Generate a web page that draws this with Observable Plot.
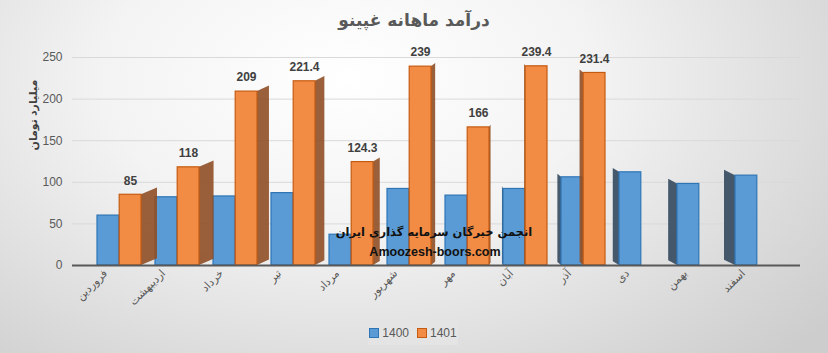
<!DOCTYPE html>
<html><head><meta charset="utf-8">
<script src="https://cdn.jsdelivr.net/npm/d3@7"></script>
<script src="https://cdn.jsdelivr.net/npm/@observablehq/plot@0.6"></script>
<style>
body{margin:0;width:828px;height:353px;overflow:hidden;font-family:"Liberation Sans","DejaVu Sans",sans-serif;
background:radial-gradient(ellipse 75% 110% at 42% 22%, #ffffff 0%, #f3f3f3 40%, #d6d6d6 85%, #cdcdcd 100%);}
#wrap{position:relative;width:828px;height:353px}
#title{position:absolute;left:0;top:8px;width:828px;text-align:center;font:bold 17px "DejaVu Sans",sans-serif;line-height:24px;color:#595959;white-space:nowrap}
#chart{position:absolute;left:0;top:40px}
#chart svg{background:transparent;display:block}
#legend{position:absolute;left:368px;top:320px;width:90px;height:25px;background:#e4e4e4;display:flex;align-items:center;justify-content:center;gap:8px;font-size:12px;color:#595959}
#legend span.sw{display:inline-block;width:8px;height:8px;margin-right:3px;vertical-align:-1px}
#wm1{position:absolute;left:284px;width:300px;top:223px;text-align:center;font:bold 11.5px "DejaVu Sans",sans-serif;color:#111;white-space:nowrap;line-height:18px}
#wm2{position:absolute;left:285px;width:300px;top:243px;text-align:center;font:bold 12.5px "Liberation Sans",sans-serif;color:#111;white-space:nowrap;line-height:18px}
</style>
</head><body>
<div id="wrap">
<div id="title">درآمد ماهانه غپینو</div>
<div id="chart"></div>
<div id="wm1">انجمن خبرگان سرمایه گذاری ایران</div>
<div id="wm2">Amoozesh-boors.com</div>
<div id="legend"></div>
</div>
<script>
const months = ["فروردین","اردیبهشت","خرداد","تیر","مرداد","شهریور","مهر","آبان","آذر","دی","بهمن","اسفند"];
const years = ["1400","1401"];
const values1400 = [60, 82, 83, 87, 37, 92, 84, 92, 106, 112, 98, 108];
const values1401 = [85, 118, 209, 221.4, 124.3, 239, 166, 239.4, 231.4, null, null, null];
const yTicks = [0, 50, 100, 150, 200, 250];
const yLabel = "میلیارد تومان";
const colors = {"1400": "#5B9BD5", "1401": "#F28C45"};
const strokes = {"1400": "#2E75B6", "1401": "#C55A11"};
const sides = {"1400": "#34495e", "1401": "#8f4f26"};

const rows1400 = months.map((m, i) => ({month: m, idx: i, year: "1400", value: values1400[i]})).filter(d => d.value != null);
const rows1401 = months.map((m, i) => ({month: m, idx: i, year: "1401", value: values1401[i]})).filter(d => d.value != null);
// perspective side offset (style only): side faces point away from a vanishing column near "مهر"
const sideOffset = i => Math.max(-11, Math.min(16, (6.6 - i) * 2.6));

// 3D side face drawn as a parallelogram from the bar's rect geometry
const sideMark = (rows, y, insetLeft, insetRight) =>
  Plot.barY(rows, {x: "month", y: "value", fill: sides[y], fillOpacity: 0.9, insetLeft, insetRight,
    render: (index, scales, values, dims, ctx, next) => {
      const g = next(index, scales, values, dims, ctx);
      const rects = Array.from(g.querySelectorAll("rect"));
      index.forEach((k, j) => {
        const r = rects[j];
        const off = sideOffset(rows[k].idx);
        const x = +r.getAttribute("x"), yy = +r.getAttribute("y");
        const w = +r.getAttribute("width"), h = +r.getAttribute("height");
        const ex = off >= 0 ? x + w : x;
        const lift = Math.abs(off) * 0.3 + 2;
        const p = document.createElementNS("http://www.w3.org/2000/svg", "path");
        p.setAttribute("d", `M${ex},${yy}L${ex + off},${yy - lift}L${ex + off},${yy + h - lift}L${ex},${yy + h}Z`);
        p.setAttribute("fill", sides[y]);
        p.setAttribute("fill-opacity", 0.9);
        r.replaceWith(p);
      });
      return g;
    }});

const plot = Plot.plot({
  width: 828,
  height: 273,
  marginTop: 17,
  marginBottom: 48,
  marginLeft: 88,
  marginRight: 40,
  style: {background: "transparent", fontFamily: "'Liberation Sans','DejaVu Sans',sans-serif", color: "#595959"},
  x: {domain: months, padding: 0},
  y: {domain: [0, 250]},
  marks: [
    Plot.ruleY(yTicks.filter(t => t > 0), {stroke: "#d9d9d9", insetLeft: -16, insetRight: -12}),
    sideMark(rows1400, "1400", 7, 29.2),
    Plot.barY(rows1400, {x: "month", y: "value", fill: colors["1400"], stroke: strokes["1400"], strokeWidth: 1.2, insetLeft: 7, insetRight: 29.2}),
    sideMark(rows1401, "1401", 29.2, 7),
    Plot.barY(rows1401, {x: "month", y: "value", fill: colors["1401"], stroke: strokes["1401"], strokeWidth: 1.2, insetLeft: 29.2, insetRight: 7}),
    Plot.ruleY([0], {stroke: "#595959", strokeWidth: 2, insetLeft: -16, insetRight: -12}),
    Plot.text(rows1401, {x: "month", y: "value", text: d => String(d.value), dx: 11, dy: -14, fontWeight: "bold", fontSize: 12, fill: "#404040"}),
    Plot.axisY({ticks: yTicks, tickSize: 0, tickPadding: 26, label: null, fontSize: 12}),
    Plot.axisX({tickSize: 0, tickRotate: -45, tickPadding: 6, dx: -14, label: null, fontSize: 11}),
    Plot.text([yLabel], {frameAnchor: "left", rotate: -90, dx: -55, dy: -11, fontWeight: "bold", fontSize: 11, fill: "#404040"})
  ]
});
document.getElementById("chart").appendChild(plot);

const legend = document.getElementById("legend");
for (const y of years) {
  const item = document.createElement("div");
  item.innerHTML = `<span class="sw" style="background:${colors[y]};border:1px solid ${strokes[y]}"></span>${y}`;
  legend.appendChild(item);
}
</script>
</body></html>
